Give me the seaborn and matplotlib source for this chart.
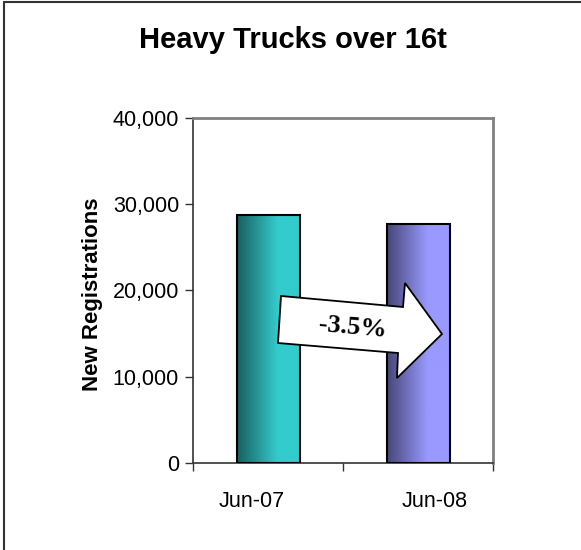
import matplotlib

matplotlib.use("Agg")

import matplotlib.pyplot as plt
import numpy as np
import pandas as pd
import seaborn as sns
from matplotlib.colors import LinearSegmentedColormap
from matplotlib.lines import Line2D
from matplotlib.patches import Polygon
from matplotlib.ticker import FuncFormatter, FixedLocator

# chart data
months = ["Jun-07", "Jun-08"]
registrations = [28700, 27700]
change_label = "-3.5%"
y_ticks = [0, 10000, 20000, 30000, 40000]

# gradient ends per bar (dark left -> light right)
bar_gradients = [("#17605f", "#33cccc"), ("#474778", "#9999ff")]

W, H = 581, 550
sns.set_theme(style="white")
plt.rcParams["font.family"] = ["Liberation Sans", "DejaVu Sans"]
plt.rcParams["text.color"] = "black"
plt.rcParams["axes.labelcolor"] = "black"
plt.rcParams["xtick.color"] = "black"
plt.rcParams["ytick.color"] = "black"

fig = plt.figure(figsize=(W / 100, H / 100), dpi=100)
ax = fig.add_axes([193 / W, 1 - 463 / H, 300 / W, 345 / H])

df = pd.DataFrame({"month": months, "value": registrations})
sns.barplot(data=df, x="month", y="value", ax=ax, width=0.42,
            color="white", edgecolor="black", linewidth=1.5, zorder=3)

# paint horizontal gradients inside each bar
for patch, (c0, c1) in zip(ax.patches, bar_gradients):
    x0, y0 = patch.get_x(), patch.get_y()
    w, h = patch.get_width(), patch.get_height()
    cmap = LinearSegmentedColormap.from_list("g", [(0, c0), (0.65, c1), (1, c1)])
    grad = np.linspace(0, 1, 256).reshape(1, -1)
    im = ax.imshow(grad, cmap=cmap, aspect="auto", extent=[x0, x0 + w, y0, y0 + h],
                   zorder=2, interpolation="bicubic")
    im.set_clip_path(patch)
    patch.set_facecolor("none")

ax.set_xlim(-0.5, 1.5)
ax.set_ylim(0, 40000)
ax.set_yticks(y_ticks)
ax.yaxis.set_major_formatter(FuncFormatter(lambda v, p: f"{int(v):,}"))
ax.tick_params(axis="y", left=True, length=6, width=1, direction="out",
               labelsize=15.5, pad=4, labelcolor="black", color="#333333")
# category labels sit slightly off the bar centres in the original
ax.set_xticks([-0.107, 1.113], months)
ax.tick_params(axis="x", which="major", bottom=False, labelsize=15.5, pad=14,
               labelcolor="black")
ax.xaxis.set_minor_locator(FixedLocator([-0.5, 0.5, 1.5]))
ax.tick_params(axis="x", which="minor", bottom=True, length=6, width=1, color="#333333")
ax.set_xlabel("")
ax.set_ylabel("New Registrations", fontsize=16, fontweight="bold", color="black")
ax.yaxis.set_label_coords(-0.30, 1 - (294 - 118) / 345)

for side in ("left", "bottom"):
    ax.spines[side].set_color("#333333")
    ax.spines[side].set_linewidth(1.2)
for side in ("top", "right"):
    ax.spines[side].set_color("#808080")
    ax.spines[side].set_linewidth(2)

fig.text(293 / W, 1 - 40 / H, "Heavy Trucks over 16t", ha="center", va="center",
         fontsize=21, fontweight="bold", color="black")

# change arrow (pixel positions from top-left)
arrow_px = [(281, 296), (403, 307), (405, 283), (442, 334),
            (397, 378), (398, 353), (278, 343)]
arrow = Polygon([(x / W, 1 - y / H) for x, y in arrow_px], closed=True,
                transform=fig.transFigure, facecolor="white", edgecolor="black",
                linewidth=1.3, zorder=10)
fig.add_artist(arrow)
fig.text(353 / W, 1 - 327 / H, change_label, ha="center", va="center", rotation=-5,
         fontsize=19, fontweight="bold", family=["Liberation Serif", "DejaVu Serif"],
         color="black", zorder=11)

# outer chart frame (only top and left edges fall inside the image)
fig.add_artist(Line2D([3.5 / W, 1], [1 - 1.5 / H] * 2, transform=fig.transFigure,
                      color="#333333", linewidth=1.5))
fig.add_artist(Line2D([3.5 / W] * 2, [0, 1 - 1.5 / H], transform=fig.transFigure,
                      color="#333333", linewidth=1.5))

fig.savefig("out.png", dpi=100)
plt.close(fig)
